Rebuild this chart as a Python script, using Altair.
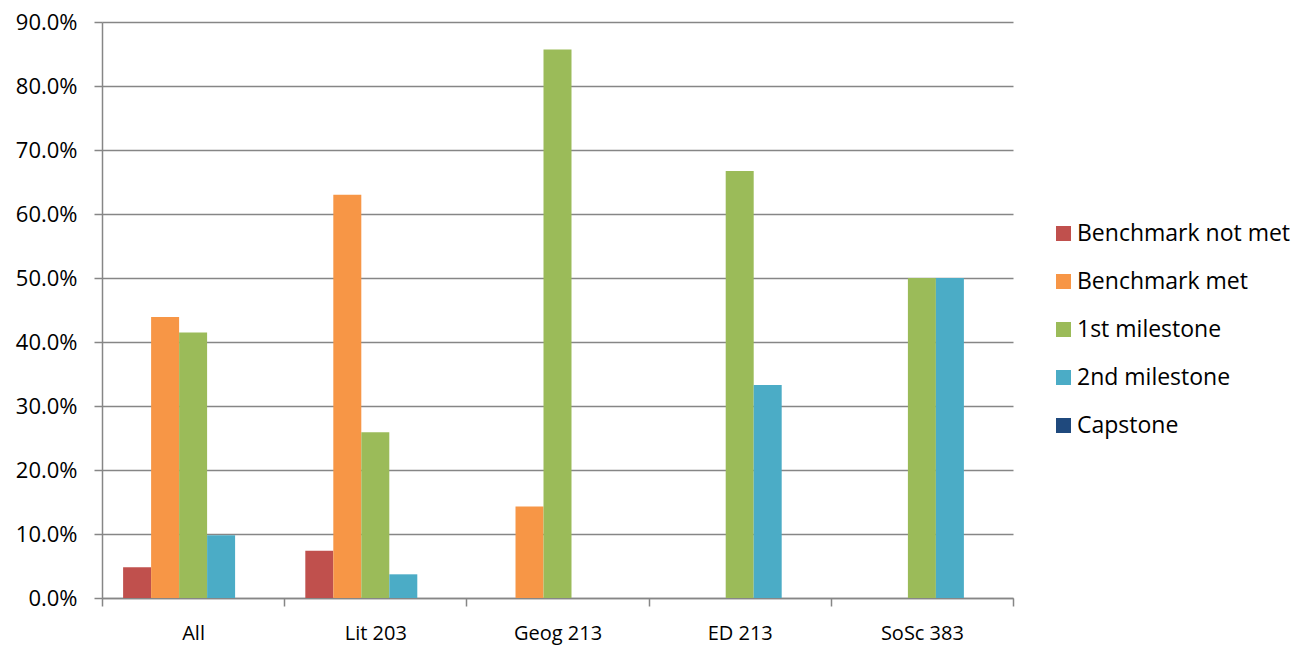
import altair as alt
import pandas as pd

courses = ["All", "Lit 203", "Geog 213", "ED 213", "SoSc 383"]
series = ["Benchmark not met", "Benchmark met", "1st milestone", "2nd milestone", "Capstone"]
colors = ["#C0504D", "#F79646", "#9BBB59", "#4BACC6", "#1F497D"]

not_met = [0.048, 0.074, 0.0, 0.0, 0.0]
met = [0.439, 0.630, 0.143, 0.0, 0.0]
first_ms = [0.415, 0.259, 0.857, 0.667, 0.500]
second_ms = [0.098, 0.037, 0.0, 0.333, 0.500]
capstone = [0.0, 0.0, 0.0, 0.0, 0.0]

rows = []
for vals, s in zip([not_met, met, first_ms, second_ms, capstone], series):
    for c, v in zip(courses, vals):
        rows.append({"course": c, "series": s, "value": v})
df = pd.DataFrame(rows)

FONT = "Open Sans"
chart = alt.Chart(df).mark_bar().encode(
    x=alt.X("course:N", sort=courses, title=None,
            scale=alt.Scale(paddingInner=0, paddingOuter=0),
            axis=alt.Axis(labelAngle=0, tickBand="extent", grid=False,
                          domainColor="#868686", tickColor="#868686", tickSize=8,
                          labelFontSize=20, labelFont=FONT, labelColor="#000000",
                          labelPadding=17)),
    xOffset=alt.XOffset("series:N", sort=series,
                        scale=alt.Scale(paddingInner=0, paddingOuter=0.754)),
    y=alt.Y("value:Q", title=None,
            scale=alt.Scale(domain=[0, 0.9], nice=False),
            axis=alt.Axis(format=".1%", values=[i / 10 for i in range(10)],
                          grid=True, gridColor="#868686", gridWidth=1.5,
                          domainColor="#868686", tickColor="#868686", tickSize=8,
                          domainWidth=1.5, tickWidth=1.5,
                          labelFontSize=22, labelFont=FONT, labelColor="#000000",
                          labelPadding=17)),
    color=alt.Color("series:N", sort=series,
                    scale=alt.Scale(domain=series, range=colors),
                    legend=alt.Legend(title=None, orient="none", legendX=950, legendY=200,
                                      symbolType="square", symbolSize=225,
                                      symbolStrokeWidth=0, labelFontSize=23,
                                      labelFont=FONT, labelColor="#000000",
                                      labelLimit=400,
                                      rowPadding=24, labelOffset=2)),
).properties(
    width=911, height=576,
    autosize=alt.AutoSizeParams(type="none"),
    padding={"left": 102, "top": 22, "right": 290, "bottom": 48},
).configure_view(stroke=None).configure_axisX(domainWidth=1.5, tickWidth=1.5)

chart.save("out.html", embed_options={"renderer": "svg", "actions": False})
